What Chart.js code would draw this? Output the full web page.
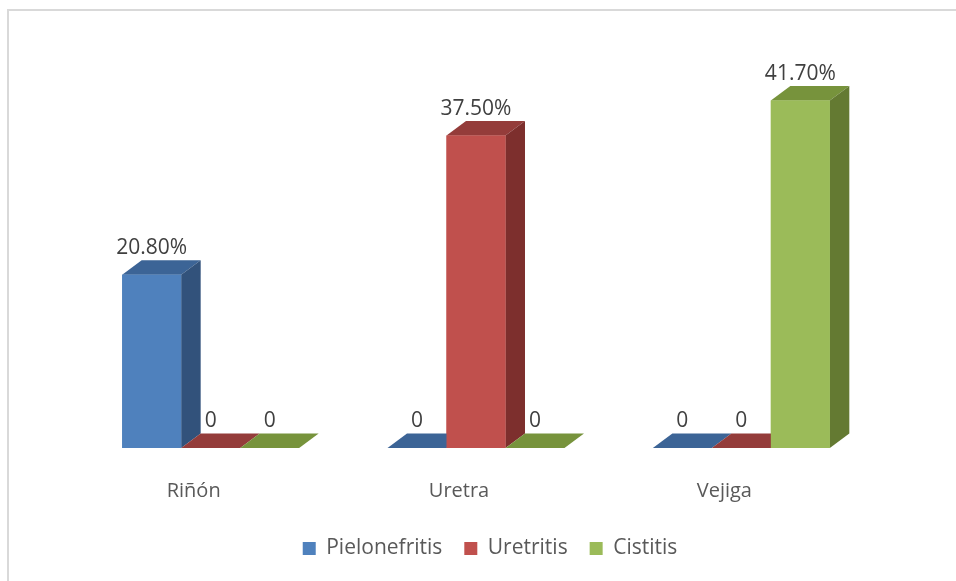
<!DOCTYPE html>
<html lang="es">
<head>
    <meta charset="UTF-8">
    <title>Infecciones</title>
    <script src="https://cdn.jsdelivr.net/npm/chart.js@4/dist/chart.umd.min.js"></script>
    <style>
        html, body { margin: 0; padding: 0; background: #fff; }
        #wrap { position: relative; width: 956px; height: 581px; }
    </style>
</head>
<body>
<div id="wrap"><canvas id="myChart" width="956" height="581"></canvas></div>

<script>
    var categories = ["Riñón", "Uretra", "Vejiga"];
    var seriesNames = ["Pielonefritis", "Uretritis", "Cistitis"];
    var pielonefritis = [20.8, 0, 0];
    var uretritis = [0, 37.5, 0];
    var cistitis = [0, 0, 41.7];

    // front, top, side colours of each series
    var faceColors = [
        { front: "#4F81BD", top: "#3C6496", side: "#32527B" },
        { front: "#C0504D", top: "#943C3A", side: "#7D2F2D" },
        { front: "#9BBB59", top: "#77933C", side: "#647A32" }
    ];
    var depthX = 19.5, depthY = -14.5;

    function labelText(v) {
        return v === 0 ? "0" : v.toFixed(2) + "%";
    }

    var bars3d = {
        id: "bars3d",
        afterLayout: function (chart) {
            // legend sits a little right of centre in the original
            chart.legend.left += 14;
            chart.legend.right += 14;
        },
        beforeDraw: function (chart) {
            var c = chart.ctx;
            c.save();
            c.fillStyle = "#fff";
            c.fillRect(0, 0, chart.width, chart.height);
            c.strokeStyle = "#D9D9D9";
            c.lineWidth = 2;
            c.beginPath();
            c.moveTo(8, chart.height);
            c.lineTo(8, 10);
            c.lineTo(chart.width, 10);
            c.stroke();
            c.restore();
        },
        afterDatasetsDraw: function (chart) {
            var c = chart.ctx;
            var n = chart.data.labels.length;
            var labels = [];
            c.save();
            for (var i = 0; i < n; i++) {
                chart.data.datasets.forEach(function (ds, d) {
                    var bar = chart.getDatasetMeta(d).data[i];
                    var col = faceColors[d];
                    var xl = bar.x - bar.width / 2, xr = bar.x + bar.width / 2;
                    var yt = bar.y, yb = bar.base;
                    // top
                    c.fillStyle = col.top;
                    c.beginPath();
                    c.moveTo(xl, yt);
                    c.lineTo(xl + depthX, yt + depthY);
                    c.lineTo(xr + depthX, yt + depthY);
                    c.lineTo(xr, yt);
                    c.closePath();
                    c.fill();
                    if (yb - yt > 0.5) {
                        // side
                        c.fillStyle = col.side;
                        c.beginPath();
                        c.moveTo(xr, yt);
                        c.lineTo(xr + depthX, yt + depthY);
                        c.lineTo(xr + depthX, yb + depthY);
                        c.lineTo(xr, yb);
                        c.closePath();
                        c.fill();
                        // front
                        c.fillStyle = col.front;
                        c.fillRect(xl, yt, xr - xl, yb - yt);
                    }
                    labels.push({ x: bar.x, y: yt + depthY - 12, t: labelText(ds.data[i]) });
                });
            }
            c.fillStyle = "#404040";
            c.font = "21px 'Open Sans'";
            c.textAlign = "center";
            c.textBaseline = "middle";
            labels.forEach(function (l) { c.fillText(l.t, l.x, l.y); });
            c.restore();
        }
    };

    var ctx = document.getElementById("myChart").getContext("2d");
    var chart = new Chart(ctx, {
        type: "bar",
        data: {
            labels: categories,
            datasets: [
                { label: seriesNames[0], data: pielonefritis, backgroundColor: faceColors[0].front },
                { label: seriesNames[1], data: uretritis, backgroundColor: faceColors[1].front },
                { label: seriesNames[2], data: cistitis, backgroundColor: faceColors[2].front }
            ]
        },
        options: {
            responsive: false,
            animation: false,
            events: [],
            categoryPercentage: 0.667,
            barPercentage: 1,
            layout: { padding: { left: 78, right: 82, top: 73, bottom: 12 } },
            scales: {
                x: {
                    grid: { display: false, drawTicks: false },
                    border: { display: false },
                    ticks: {
                        color: "#595959",
                        font: { family: "'Open Sans'", size: 20 },
                        padding: 31,
                        labelOffset: -17
                    },
                    afterFit: function (scale) { scale.height -= 18; }
                },
                y: { display: false, min: 0, max: 45 }
            },
            plugins: {
                legend: {
                    position: "bottom",
                    labels: {
                        color: "#595959",
                        font: { family: "'Open Sans'", size: 21 },
                        boxWidth: 13,
                        boxHeight: 13,
                        padding: 22
                    }
                },
                tooltip: { enabled: false }
            }
        },
        plugins: [bars3d]
    });
</script>
</body>
</html>
